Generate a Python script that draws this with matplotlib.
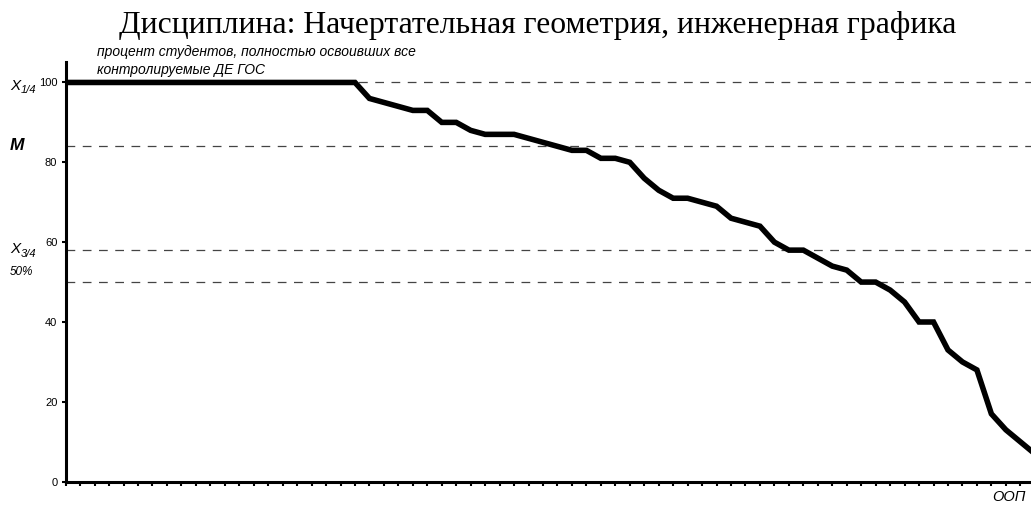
import matplotlib
matplotlib.use("Agg")
import matplotlib.pyplot as plt
import numpy as np

# ---- data ----
title_text = "Дисциплина: Начертательная геометрия, инженерная графика"
annotation_lines = ["процент студентов, полностью освоивших все", "контролируемые ДЕ ГОС"]
x_axis_label = "ООП"
percent_values = [100] * 21 + [
    96, 95, 94, 93, 93, 90, 90, 88, 87, 87, 87, 86, 85, 84, 83, 83,
    81, 81, 80, 76, 73, 71, 71, 70, 69, 66, 65, 64, 60, 58, 58, 56,
    54, 53, 50, 50, 48, 45, 40, 40, 33, 30, 28, 17, 13, 10, 7]
ref_levels = [100, 84, 58, 50]          # X1/4, M, X3/4, 50%
y_ticks = [0, 20, 40, 60, 80, 100]

W, H = 1031, 508
fig = plt.figure(figsize=(W / 100, H / 100), dpi=100)
fig.patch.set_facecolor("white")

def fx(px):
    return px / W

def fy(py):
    return 1 - py / H

ax_left, ax_right, ax_top, ax_bottom = 65.7, 1031, 61.7, 481.7
ax = fig.add_axes([fx(ax_left), fy(ax_bottom), fx(ax_right - ax_left), (ax_bottom - ax_top) / H])

x = np.arange(len(percent_values))
for lvl in ref_levels:
    ax.axhline(lvl, color="#444444", lw=0.9, linestyle=(0, (7, 6)), zorder=1)
ax.plot(x, percent_values, color="black", lw=4.0, solid_joinstyle="miter", zorder=3, clip_on=True)

ax.set_xlim(0, 66.74)
ax.set_ylim(0, 105.2)
ax.set_yticks(y_ticks)
ax.set_yticklabels([str(v) for v in y_ticks], fontfamily="Liberation Sans", fontsize=8)
ax.set_xticks(np.arange(0, 67))
ax.set_xticklabels([])
ax.tick_params(axis="y", direction="out", length=3, width=1.5, pad=3, colors="black")
ax.tick_params(axis="x", direction="out", length=3, width=1.5, colors="black")
for s in ["top", "right"]:
    ax.spines[s].set_visible(False)
for s in ["left", "bottom"]:
    ax.spines[s].set_linewidth(2.2)
    ax.spines[s].set_color("black")

# title
fig.text(fx(538), fy(26), title_text, ha="center", va="center",
         fontfamily="Liberation Serif", fontsize=22.8, color="black")

# annotation
fig.text(fx(97), fy(52), annotation_lines[0], ha="left", va="center",
         fontfamily="Liberation Sans", fontstyle="italic", fontsize=10)
fig.text(fx(97), fy(70), annotation_lines[1], ha="left", va="center",
         fontfamily="Liberation Sans", fontstyle="italic", fontsize=10)

# left labels
fig.text(fx(10), fy(86), "X", ha="left", va="center", fontfamily="Liberation Sans",
         fontstyle="italic", fontsize=11)
fig.text(fx(21), fy(90), "1/4", ha="left", va="center", fontfamily="Liberation Sans",
         fontstyle="italic", fontsize=8)
fig.text(fx(10), fy(146), "M", ha="left", va="center", fontfamily="Liberation Sans",
         fontstyle="italic", fontweight="bold", fontsize=12.5)
fig.text(fx(10), fy(249), "X", ha="left", va="center", fontfamily="Liberation Sans",
         fontstyle="italic", fontsize=11)
fig.text(fx(21), fy(254), "3/4", ha="left", va="center", fontfamily="Liberation Sans",
         fontstyle="italic", fontsize=8)
fig.text(fx(10), fy(272), "50%", ha="left", va="center", fontfamily="Liberation Sans",
         fontstyle="italic", fontsize=8.5)

fig.text(fx(1026), fy(497), x_axis_label, ha="right", va="center", fontfamily="Liberation Sans",
         fontstyle="italic", fontsize=10.5)

fig.savefig("out.png", dpi=100, facecolor="white")
